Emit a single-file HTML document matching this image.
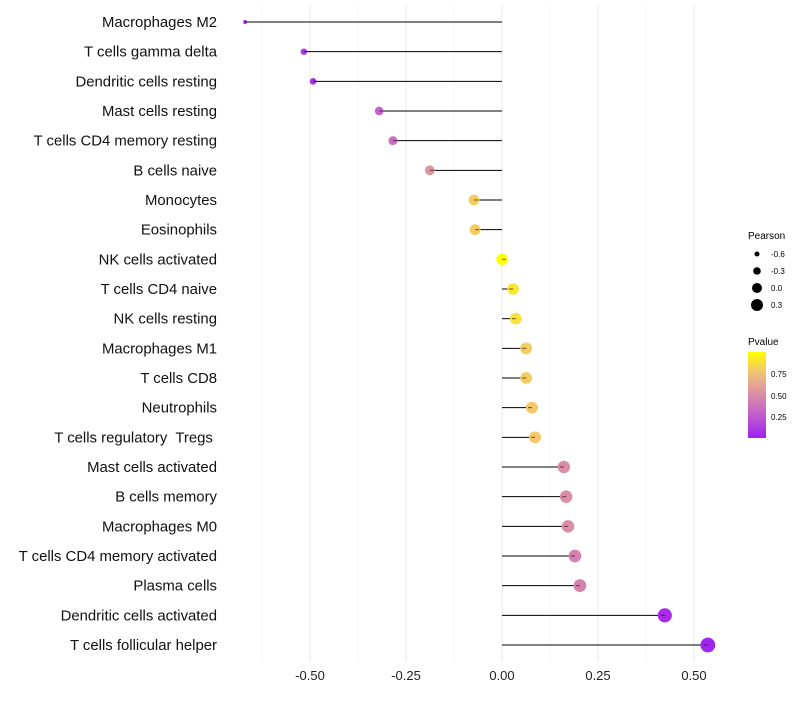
<!DOCTYPE html>
<html><head><meta charset="utf-8"><style>
body{margin:0;background:#fff;font-family:"Liberation Sans",sans-serif;}
svg text{font-family:"Liberation Sans",sans-serif;white-space:pre;}
</style></head><body>
<svg id="chart" width="800" height="700">
<defs><linearGradient id="pg" x1="0" y1="1" x2="0" y2="0">
<stop offset="0" stop-color="#A020F0"/><stop offset="0.25" stop-color="#BE5AD0"/><stop offset="0.5" stop-color="#DA8CA8"/><stop offset="0.75" stop-color="#F0C078"/><stop offset="1" stop-color="#FFFF00"/></linearGradient></defs>
<g id="grid"></g><g id="marks"></g><g id="labels"></g><g id="xaxis"></g>
<g>
<text x="748" y="239" font-size="10">Pearson</text>
<circle cx="757" cy="254" r="2.5" fill="#000"/><text x="771" y="257" font-size="8">-0.6</text>
<circle cx="757" cy="271" r="3.8" fill="#000"/><text x="771" y="274" font-size="8">-0.3</text>
<circle cx="757" cy="288" r="5" fill="#000"/><text x="771" y="291" font-size="8">0.0</text>
<circle cx="757" cy="305" r="6" fill="#000"/><text x="771" y="308" font-size="8">0.3</text>
</g>
<g>
<text x="748" y="345" font-size="10">Pvalue</text>
<rect x="748" y="352" width="18" height="86" fill="url(#pg)"/>
<text x="771" y="377" font-size="8">0.75</text>
<text x="771" y="399" font-size="8">0.50</text>
<text x="771" y="420" font-size="8">0.25</text>
</g>
</svg>
<script>
const categories=["Macrophages M2","T cells gamma delta","Dendritic cells resting","Mast cells resting","T cells CD4 memory resting","B cells naive","Monocytes","Eosinophils","NK cells activated","T cells CD4 naive","NK cells resting","Macrophages M1","T cells CD8","Neutrophils","T cells regulatory  Tregs ","Mast cells activated","B cells memory","Macrophages M0","T cells CD4 memory activated","Plasma cells","Dendritic cells activated","T cells follicular helper"];
const pearson=[-0.669,-0.516,-0.492,-0.320,-0.284,-0.188,-0.073,-0.070,0.0,0.029,0.036,0.063,0.063,0.078,0.086,0.161,0.167,0.172,0.190,0.203,0.424,0.536];
const pvalue=[0.05,0.1,0.1,0.3,0.35,0.55,0.8,0.8,1.0,0.9,0.88,0.8,0.8,0.78,0.78,0.5,0.5,0.5,0.45,0.45,0.05,0.02];
const xTicks=[-0.5,-0.25,0,0.25,0.5];
const xTickLabels=["-0.50","-0.25","0.00","0.25","0.50"];
const NS="http://www.w3.org/2000/svg";
const x=v=>502+v*384;
const y=i=>22+i*(623/21);
const rad=v=>Math.sqrt(Math.max(1.5,4+(v+0.669)*42));
const stops=[[0,[160,32,240]],[0.25,[190,90,208]],[0.5,[218,140,168]],[0.75,[240,192,120]],[1,[255,255,0]]];
function col(p){for(let k=1;k<stops.length;k++){if(p<=stops[k][0]){const a=stops[k-1],b=stops[k],t=(p-a[0])/(b[0]-a[0]);return "rgb("+a[1].map((c,j)=>Math.round(c+(b[1][j]-c)*t)).join(",")+")";}}return "rgb(255,255,0)";}
function mk(t,a,parent){const e=document.createElementNS(NS,t);for(const k in a)e.setAttribute(k,a[k]);document.getElementById(parent).appendChild(e);return e;}
const minor=[-0.625,-0.375,-0.125,0.125,0.375];
minor.forEach(v=>{const l=mk("line",{x1:x(v),x2:x(v),y1:5,y2:662,stroke:"#f2f2f2","stroke-width":0.6},"grid");

});
xTicks.forEach((v,i)=>{const l=mk("line",{x1:x(v),x2:x(v),y1:5,y2:662,stroke:"#ebebeb","stroke-width":1},"grid");


const t=mk("text",{x:x(v),y:680,"font-size":13,"text-anchor":"middle",fill:"#222"},"xaxis");t.textContent=xTickLabels[i];

});
categories.forEach((c,i)=>{
const t=mk("text",{x:217,y:y(i)+5,"font-size":14.9,"text-anchor":"end",fill:"#111","xml:space":"preserve"},"labels");t.textContent=c;


const l=mk("line",{x1:x(0),x2:x(pearson[i]),y1:y(i),y2:y(i),stroke:"#000","stroke-width":1},"marks");


const d=mk("circle",{cx:x(pearson[i]),cy:y(i),r:rad(pearson[i]),fill:col(pvalue[i])},"marks");


const l2=mk("line",{x1:x(pearson[i])-(pearson[i]>0?4:-4),x2:x(pearson[i]),y1:y(i),y2:y(i),stroke:"#000","stroke-width":1,opacity:0.6},"marks");


});
</script>
</body></html>
